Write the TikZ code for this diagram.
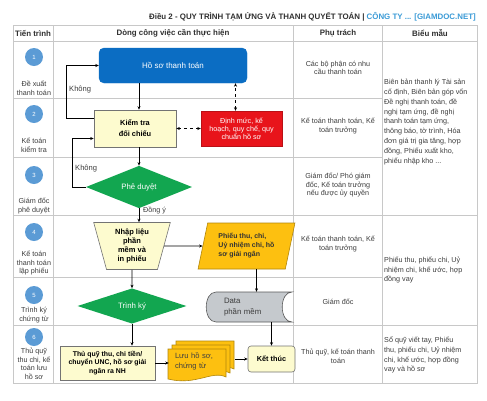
\documentclass[tikz,border=0pt]{standalone}
\usepackage{fontspec}
\setmainfont{Liberation Sans}
\usepackage{tikz}
\usetikzlibrary{arrows.meta,shapes.geometric,positioning}
\definecolor{gridc}{HTML}{C8C8C8}
\definecolor{ttlc}{HTML}{2F2F2F}
\definecolor{accc}{HTML}{3A9AD6}
\definecolor{circc}{HTML}{5B9BD5}
\definecolor{hsblue}{HTML}{0B6DC3}
\definecolor{lyel}{HTML}{FDFBCF}
\definecolor{redc}{HTML}{E8141B}
\definecolor{grn}{HTML}{12A650}
\definecolor{orng}{HTML}{FDC010}
\definecolor{datag}{HTML}{C5C9CD}
\definecolor{txtc}{HTML}{3C3C3C}
\begin{document}
\begin{tikzpicture}[x=1pt,y=-1pt,>={Stealth[length=3.5pt,width=3pt]},
  txt/.style={font=\fontsize{7.2}{8.6}\selectfont,text=txtc,align=center,inner sep=0pt},
  form/.style={font=\fontsize{7.2}{9.8}\selectfont,text=txtc,align=left,anchor=west,inner sep=0pt},
  head/.style={font=\fontsize{7.9}{9}\selectfont\bfseries,text=ttlc,inner sep=0pt},
  num/.style={circle,fill=circc,minimum size=18pt,inner sep=0pt,text=white,font=\fontsize{6}{7}\selectfont},
  ybox/.style={draw=black!55,fill=lyel,line width=0.6pt,align=center,inner sep=1pt,
    font=\fontsize{7.2}{8.6}\selectfont\bfseries},
  gdia/.style={diamond,fill=grn,inner sep=0pt,text=white,font=\fontsize{7.8}{9}\selectfont},
  flow/.style={->,line width=0.6pt},
  dash2/.style={<->,dashed,line width=0.6pt}]
\useasboundingbox (0,0) rectangle (487,400);
% title
\node[head,anchor=east] (ttl) at (476,17) {Điều 2 - QUY TRÌNH TẠM ỨNG VÀ THANH QUYẾT TOÁN | {\color{accc}CÔNG TY ... [GIAMDOC.NET]}};
% table
\draw[gridc,line width=0.8pt] (13,25) rectangle (477,383);
\draw[gridc,line width=0.8pt] (13,41)--(477,41) (13,215)--(477,215) (13,325)--(477,325)
  (13,98)--(382,98) (13,157)--(382,157) (13,277)--(382,277)
  (53,25)--(53,383) (293,25)--(293,383) (382,25)--(382,383);
\node[head] (h1) at (33,33) {Tiến trình};
\node[head] (h2) at (173,33) {Dòng công việc cần thực hiện};
\node[head] (h3) at (338,33) {Phụ trách};
\node[head] (h4) at (430,33) {Biểu mẫu};
% steps
\foreach \n/\y in {1/57,2/114,3/175,4/232,5/295,6/337}
  \node[num] (c\n) at (34,\y) {\n};
\node[txt] (s1) at (34,88) {Đề xuất\\thanh toán};
\node[txt] (s2) at (34,145) {Kế toán\\kiểm tra};
\node[txt] (s3) at (34,206) {Giám đốc\\phê duyệt};
\node[txt] (s4) at (34,263) {Kế toán\\thanh toán\\lập phiếu};
\node[txt] (s5) at (34,315) {Trình ký\\chứng từ};
\node[txt] (s6) at (34,364) {Thủ quỹ\\thu chi, kế\\toán lưu\\hồ sơ};
% in charge
\node[txt] (p1) at (338,68) {Các bộ phận có nhu\\cầu thanh toán};
\node[txt] (p2) at (338,126) {Kế toán thanh toán, Kế\\toán trưởng};
\node[txt] (p3) at (338,185) {Giám đốc/ Phó giám\\đốc, Kế toán trưởng\\nếu được ủy quyền};
\node[txt] (p4) at (338,244) {Kế toán thanh toán, Kế\\toán trưởng};
\node[txt] (p5) at (338,302) {Giám đốc};
\node[txt] (p6) at (338,356) {Thủ quỹ, kế toán thanh\\toán};
% forms
\node[form] (f1) at (384,122) {Biên bản thanh lý Tài sản\\cố định, Biên bản góp vốn\\Đề nghị thanh toán, đề\\nghị tạm ứng, đề nghị\\thanh toán tạm ứng,\\thông báo, tờ trình, Hóa\\đơn giá trị gia tăng, hợp\\đồng, Phiếu xuất kho,\\phiếu nhập kho ...};
\node[form] (f2) at (384,270) {Phiếu thu, phiếu chi, Uỷ\\nhiệm chi, khế ước, hợp\\đồng vay};
\node[form] (f3) at (384,355) {Sổ quỹ viết tay, Phiếu\\thu, phiếu chi, Uỷ nhiệm\\chi, khế ước, hợp đồng\\vay và hồ sơ};
% flow
\node[draw=hsblue,fill=hsblue,rounded corners=5pt,minimum width=148pt,minimum height=35pt,
  text=white,font=\fontsize{8}{9}\selectfont] (hs) at (173,65.5) {Hồ sơ thanh toán};
\node[ybox,minimum width=82pt,minimum height=37pt,font=\fontsize{7.4}{11}\selectfont\bfseries] (kt) at (135,128.5) {Kiểm tra\\đối chiếu};
\node[draw=redc!80!black,fill=redc,minimum width=81pt,minimum height=35pt,text=white,align=center,
  inner sep=1pt,font=\fontsize{7.2}{8.2}\selectfont] (dm) at (241.5,128.5) {Định mức, kế\\hoạch, quy chế, quy\\chuẩn hồ sơ};
\node[gdia,minimum width=106pt,minimum height=30pt] (pd) at (139,187) {Phê duyệt};
\node[ybox,trapezium,shape border rotate=180,trapezium angle=76,trapezium stretches=true,
  minimum width=77pt,minimum height=47pt,font=\fontsize{7.5}{9}\selectfont\bfseries] (nl) at (132,246) {Nhập liệu\\phần\\mềm và\\in phiếu};
\node[trapezium,trapezium left angle=75,trapezium right angle=105,trapezium stretches=true,
  draw=orng!70!black,fill=orng,line width=0.6pt,minimum width=97pt,minimum height=46pt,inner sep=1pt,
  align=left,text=black!80,font=\fontsize{7}{9}\selectfont\bfseries] (ph) at (246.5,246) {Phiếu thu, chi,\\Uỷ nhiệm chi, hồ\\sơ giải ngân};
\draw[draw=black!65,fill=datag,line width=0.6pt] (292,292) -- (216,292)
  .. controls (203,292) and (203,322) .. (216,322) -- (292,322)
  .. controls (279,322) and (279,292) .. (292,292) -- cycle;
\node[txt,minimum width=87pt,minimum height=30pt,align=left,text width=48pt,
  font=\fontsize{7.8}{10.5}\selectfont] (dt) at (248,307) {Data\\phần mềm};
\node[gdia,minimum width=109pt,minimum height=28pt] (tk) at (132,306) {Trình ký};
\node[ybox,minimum width=95pt,minimum height=34pt,font=\fontsize{6.9}{8.5}\selectfont\bfseries] (tq) at (107.5,363) {Thủ quỹ thu, chi tiền/\\chuyển UNC, hồ sơ giải\\ngân ra NH};
\foreach \d in {8,4,0}
  \draw[draw=orng!70!black,fill=orng,line width=0.6pt] (168+\d,349-\d) -- (226+\d,349-\d) -- (226+\d,377-\d)
    .. controls (212+\d,370-\d) and (196+\d,386-\d) .. (168+\d,379-\d) -- cycle;
\node[txt,minimum width=66pt,minimum height=41pt,align=left,text width=54pt,text=black!75,
  font=\fontsize{7.6}{10}\selectfont] (lu) at (202,361) {Lưu hồ sơ,\\chứng từ};
\node[ybox,rounded corners=3pt,minimum width=47pt,minimum height=26pt,font=\fontsize{7.3}{8}\selectfont\bfseries] (ke) at (271.5,359) {Kết thúc};
% connectors
\draw[flow] (hs.south -| pd) -- (kt.north -| pd);
\draw[flow] (kt.south -| pd) -- (pd.north);
\draw[flow] (pd.south) -- (pd.south |- nl.north);
\draw[flow] (nl.south) -- (tk.north);
\draw[flow] (tk.south) -- (tk.south |- tq.north);
\draw[flow] (tq.east) -- (tq.east -| lu.west);
\draw[flow] (lu.east |- ke.west) -- (ke.west);
\draw[flow] (nl.east) -- (ph.west);
\draw[flow] ([xshift=10pt]ph.south) -- ([xshift=10pt]ph.south |- dt.north);
\draw[flow] (dt.south -| ke) -- (ke.north);
\draw[dash2] (kt.east) -- (dm.west);
\draw[dash2] ([xshift=-6pt]dm.north) -- ([xshift=-6pt]dm.north |- hs.south);
\draw[flow] ([yshift=10pt]kt.west) -- ++(-27,0) |- (hs.west);
\draw[flow] (pd.west) -- ++(-14,0) |- ([yshift=-10pt]kt.west);
\node[txt,anchor=west,font=\fontsize{7.6}{9}\selectfont] (k1) at (69,90) {Không};
\node[txt,anchor=west,font=\fontsize{7.6}{9}\selectfont] (k2) at (75,169) {Không};
\node[txt,anchor=west,font=\fontsize{7.2}{9}\selectfont] (dy) at (143,210) {Đồng ý};
\end{tikzpicture}
\end{document}
